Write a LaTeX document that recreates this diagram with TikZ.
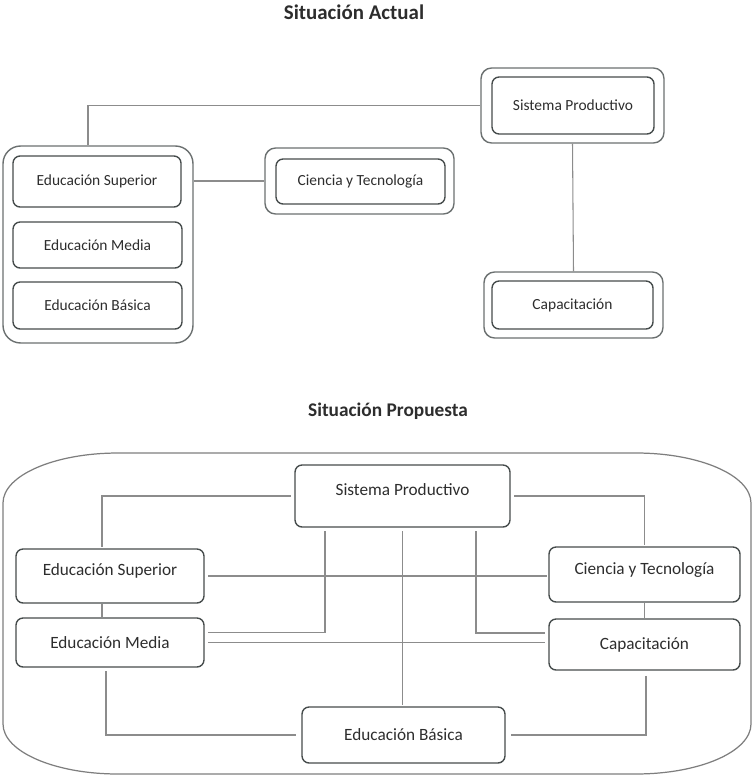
\documentclass[tikz,border=0pt]{standalone}
\usepackage{fontspec}
\setmainfont{Carlito}
\usepackage{tikz}

\definecolor{borde}{RGB}{70,76,76}
\definecolor{gris}{RGB}{140,140,140}
\definecolor{texto}{RGB}{45,45,45}

\tikzset{
  caja/.style={draw=borde, line width=0.8pt, rounded corners=4pt, inner sep=0pt, align=center, text=texto},
  marcoext/.style={draw=borde!80, line width=0.8pt, rounded corners=6pt, inner sep=0pt},
  linea/.style={draw=gris, line width=0.6pt},
  titulo/.style={text=texto, font=\bfseries\fontsize{11.5}{13}\selectfont},
  chico/.style={font=\fontsize{8.8}{10}\selectfont},
  grande/.style={font=\fontsize{9.8}{11}\selectfont},
  subir/.style={text depth=7pt}
}

\begin{document}
\begin{tikzpicture}[x=0.02cm, y=-0.02cm]
        \useasboundingbox (0,0) rectangle (753,777);
        % 标题
        \node[titulo, font=\bfseries\fontsize{11.9}{13}\selectfont] (tit1) at (354,12) {Situación Actual};
        \node[titulo, font=\bfseries\fontsize{11}{13}\selectfont] (tit2) at (388,411) {Situación Propuesta};

        % 现状: 教育组
        \node[marcoext, rounded corners=10pt, minimum width=3.8cm, minimum height=3.94cm] (grupo) at (98,244.5) {};
        \node[caja, chico, minimum width=3.36cm, minimum height=1.02cm] (es1) at (97,181.5) {Educación Superior};
        \node[caja, chico, minimum width=3.38cm, minimum height=0.92cm] (em1) at (97.5,245) {Educación Media};
        \node[caja, chico, minimum width=3.38cm, minimum height=0.94cm] (eb1) at (97.5,305.5) {Educación Básica};
        % 现状: 其它单元
        \node[marcoext, minimum width=3.78cm, minimum height=1.32cm] (ct1o) at (359.5,181) {};
        \node[caja, chico, minimum width=3.38cm, minimum height=0.9cm] (ct1) at (360.5,181.5) {Ciencia y Tecnología};
        \node[marcoext, minimum width=3.66cm, minimum height=1.5cm] (sp1o) at (572.5,105.5) {};
        \node[caja, chico, minimum width=3.24cm, minimum height=1.14cm] (sp1) at (573,105.5) {Sistema Productivo};
        \node[marcoext, minimum width=3.58cm, minimum height=1.32cm] (ca1o) at (573.5,305) {};
        \node[caja, chico, minimum width=3.22cm, minimum height=0.96cm] (ca1) at (572.5,305) {Capacitación};
        % 现状: 连线
        \draw[linea] ([xshift=-0.2cm]grupo.north) |- (sp1o.west);
        \draw[linea] (grupo.east |- ct1o.west) -- (ct1o.west);
        \draw[linea] (sp1o.south) -- (ca1o.north);

        % 提案: 外框
        \draw[draw=gris!90!black, line width=0.7pt] (118,453) -- (636,453)
          arc[start angle=90, end angle=0, x radius=2.3cm, y radius=1cm] -- (751,724)
          arc[start angle=0, end angle=-90, x radius=2.3cm, y radius=1cm] -- (118,774)
          arc[start angle=-90, end angle=-180, x radius=2.3cm, y radius=1cm] -- (3,503)
          arc[start angle=180, end angle=90, x radius=2.3cm, y radius=1cm] -- cycle;
        % 提案: 单元
        \node[caja, grande, subir, minimum width=4.3cm, minimum height=1.24cm] (sp2) at (402.5,496) {Sistema Productivo};
        \node[caja, grande, subir, minimum width=3.76cm, minimum height=1.08cm] (es2) at (110,576) {Educación Superior};
        \node[caja, grande, minimum width=3.76cm, minimum height=0.98cm] (em2) at (110,642.5) {Educación Media};
        \node[caja, grande, minimum width=4.06cm, minimum height=1.12cm] (eb2) at (403.5,735) {Educación Básica};
        \node[caja, grande, subir, minimum width=3.82cm, minimum height=1.1cm] (ct2) at (644.5,574.5) {Ciencia y Tecnología};
        \node[caja, grande, minimum width=3.82cm, minimum height=1.02cm] (ca2) at (644.5,644.5) {Capacitación};
        % 提案: 连线
        \draw[linea, shorten <=2pt, shorten >=1pt] (sp2.west) -| ([xshift=-0.16cm]es2.north);
        \draw[linea, shorten <=2pt, shorten >=1pt] (sp2.east) -| (ct2.north);
        \draw[linea, shorten <=2pt, shorten >=1pt] (es2.east) -- (es2.east -| ct2.west);
        \draw[linea, shorten <=2pt, shorten >=2pt] ([xshift=-1.55cm]sp2.south) |- ([yshift=0.2cm]em2.east);
        \draw[linea, shorten <=2pt, shorten >=2pt] (em2.east) -- (em2.east -| ca2.west);
        \draw[linea, shorten <=2pt, shorten >=1pt] (sp2.south) -- (sp2.south |- eb2.north);
        \draw[linea, shorten <=2pt, shorten >=2pt] ([xshift=1.47cm]sp2.south) |- ([yshift=0.23cm]ca2.west);
        \draw[linea] (ct2.south) -- (ca2.north);
        \draw[linea] ([xshift=-0.16cm]es2.south) -- ([xshift=-0.16cm]em2.north);
        \draw[linea, shorten <=2pt, shorten >=3pt] ([xshift=-0.08cm]em2.south) |- (eb2.west);
        \draw[linea, shorten <=3pt, shorten >=3pt] ([xshift=0.03cm]ca2.south) |- (eb2.east);
      \end{tikzpicture}
\end{document}
